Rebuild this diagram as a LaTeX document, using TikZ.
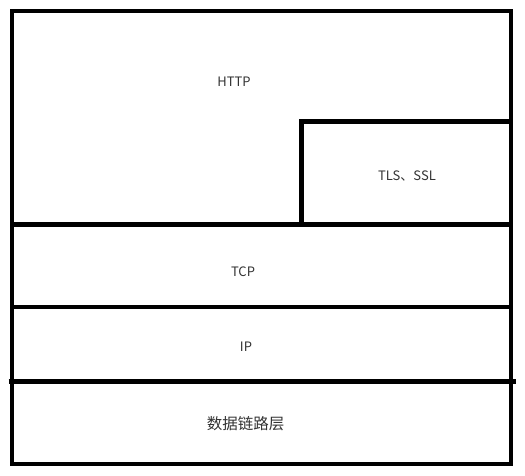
\documentclass[tikz,border=0pt]{standalone}
\usepackage{fontspec}
\setmainfont{Noto Sans CJK SC}
\begin{document}
\begin{tikzpicture}[x=1pt,y=-1pt,
  layerline/.style={line width=4.5pt,black},
  lbl/.style={text=black!80,font=\fontsize{13}{15}\selectfont,inner sep=0pt},
  cjklbl/.style={text=black!80,font=\fontsize{15.5}{18}\selectfont,inner sep=0pt}]
\useasboundingbox (0,0) rectangle (525,475);
\draw[layerline] (12,11) rectangle (511,464);
\draw[layerline] (12,224.5) -- (511,224.5);
\draw[layerline] (12,307) -- (511,307);
\draw[layerline] (8.5,381.5) -- (515.5,381.5);
\draw[layerline] (301.5,224.5) -- (301.5,121.5) -- (511,121.5);
\node[lbl] (http) at (234,82) {HTTP};
\node[lbl] (tls) at (407,176) {TLS、SSL};
\node[lbl] (tcp) at (243,272) {TCP};
\node[lbl] (ip) at (246,347) {IP};
\node[cjklbl] (link) at (245.5,424) {数据链路层};
\end{tikzpicture}
\end{document}
